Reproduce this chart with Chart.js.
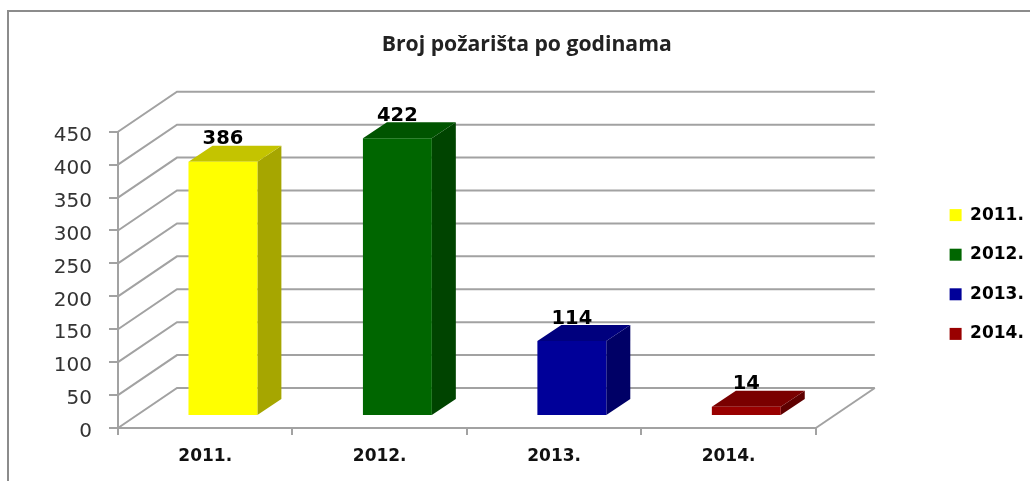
<!DOCTYPE html>
<html>
<head>
<meta charset="utf-8">
<title>Broj požarišta po godinama</title>
<style>
    body { margin: 0; background: #fff; }
    canvas { display: block; }
</style>
<script src="https://cdn.jsdelivr.net/npm/chart.js@4"></script>
</head>
<body>
<canvas id="myChart" width="1030" height="481"></canvas>
<script>
const chartTitle = 'Broj požarišta po godinama';
const years = ['2011.', '2012.', '2013.', '2014.'];
const fireCounts = [386, 422, 114, 14];
const frontColors = ['#ffff00', '#006600', '#000099', '#990000'];
const topColors = ['#c4c400', '#005400', '#00007e', '#7a0000'];
const sideColors = ['#a6a600', '#004400', '#000066', '#5e0000'];

const lineColor = '#a2a2a2';
const frameColor = '#8c8c8c';

// Depth of the fake 3D floor and of the bars, in pixels
const wallDx = 59;
const wallDy = 40;
const barDx = 24;
const barDy = 16;
const barOffsetX = 17.7;
const barOffsetY = 12;

function polygon(ctx, points, color) {
    ctx.beginPath();
    points.forEach((p, i) => (i ? ctx.lineTo(p[0], p[1]) : ctx.moveTo(p[0], p[1])));
    ctx.closePath();
    ctx.fillStyle = color;
    ctx.fill();
}

// Moves title and legend to where the original has them
const nudgeBoxes = {
    id: 'nudgeBoxes',
    afterLayout(chart) {
        chart.titleBlock.left += 65.4;
        chart.titleBlock.right += 65.4;
        chart.legend.left = 927;
        chart.legend.right = 1043;
        chart.legend.top += 34;
        chart.legend.bottom += 34;
    }
};

const frame3d = {
    id: 'frame3d',
    beforeDraw(chart) {
        const ctx = chart.ctx;
        ctx.save();
        ctx.strokeStyle = frameColor;
        ctx.lineWidth = 2;
        ctx.beginPath();
        ctx.moveTo(8, 481);
        ctx.lineTo(8, 11);
        ctx.lineTo(1030, 11);
        ctx.stroke();
        ctx.restore();
    },
    beforeDatasetsDraw(chart) {
        const ctx = chart.ctx;
        const x = chart.scales.x;
        const y = chart.scales.y;

        // Gridlines running over the side wall and along the back wall
        ctx.save();
        ctx.strokeStyle = lineColor;
        ctx.lineWidth = 2;
        y.ticks.forEach(tick => {
            const py = y.getPixelForValue(tick.value);
            ctx.beginPath();
            ctx.moveTo(x.left, py);
            ctx.lineTo(x.left + wallDx, py - wallDy);
            ctx.lineTo(x.right + wallDx, py - wallDy);
            ctx.stroke();
        });
        const floorY = y.getPixelForValue(0);
        ctx.beginPath();
        ctx.moveTo(x.right, floorY);
        ctx.lineTo(x.right + wallDx, floorY - wallDy);
        ctx.stroke();

        // Top and side faces of the bars
        chart.getDatasetMeta(0).data.forEach((bar, i) => {
            const left = bar.x - bar.width / 2 + barOffsetX;
            const right = bar.x + bar.width / 2 + barOffsetX;
            const top = bar.y - barOffsetY;
            const bottom = bar.base - barOffsetY;
            polygon(ctx, [[right, top], [right + barDx, top - barDy], [right + barDx, bottom - barDy], [right, bottom]], sideColors[i]);
            polygon(ctx, [[left, top], [left + barDx, top - barDy], [right + barDx, top - barDy], [right, top]], topColors[i]);
        });
        ctx.restore();

        // Front faces are drawn by Chart.js, shifted into the floor
        ctx.save();
        ctx.translate(barOffsetX, -barOffsetY);
    },
    afterDatasetsDraw(chart) {
        const ctx = chart.ctx;
        ctx.restore();

        // Value labels
        ctx.save();
        ctx.font = 'bold 19.5px "DejaVu Sans"';
        ctx.fillStyle = '#000';
        ctx.textAlign = 'center';
        ctx.textBaseline = 'middle';
        chart.getDatasetMeta(0).data.forEach((bar, i) => {
            ctx.fillText(fireCounts[i], bar.x + barOffsetX, bar.y - barOffsetY - 22.5);
        });
        ctx.restore();
    }
};

new Chart(document.getElementById('myChart').getContext('2d'), {
    type: 'bar',
    data: {
        labels: years,
        datasets: [{
            data: fireCounts,
            backgroundColor: frontColors,
            categoryPercentage: 1,
            barPercentage: 0.395,
            clip: false
        }]
    },
    options: {
        responsive: false,
        animation: false,
        layout: { padding: { left: 0, right: 107.3, top: 0, bottom: 0 } },
        plugins: {
            title: {
                display: true,
                text: chartTitle,
                color: '#222',
                font: { family: '"Open Sans"', size: 21.2, weight: 'bold' },
                padding: { top: 32, bottom: 74.3 }
            },
            legend: {
                position: 'right',
                labels: {
                    boxWidth: 12,
                    boxHeight: 12,
                    padding: 22.6,
                    color: '#111',
                    font: { family: '"DejaVu Sans"', size: 17, weight: 'bold' },
                    generateLabels: () => years.map((year, i) => ({
                        text: year,
                        fillStyle: frontColors[i],
                        strokeStyle: frontColors[i],
                        lineWidth: 0,
                        index: i
                    }))
                }
            },
            tooltip: { enabled: false }
        },
        scales: {
            x: {
                afterFit(scale) { scale.height = 53; },
                grid: { drawOnChartArea: false, color: lineColor, lineWidth: 2, tickLength: 7 },
                border: { color: lineColor, width: 2 },
                ticks: {
                    padding: 11,
                    color: '#111',
                    font: { family: '"DejaVu Sans"', size: 17, weight: 'bold' }
                }
            },
            y: {
                min: 0,
                max: 450,
                afterFit(scale) { scale.width = 118; },
                grid: { drawOnChartArea: false, color: lineColor, lineWidth: 2, tickLength: 9 },
                border: { color: lineColor, width: 2 },
                ticks: {
                    stepSize: 50,
                    padding: 17,
                    labelOffset: 4,
                    color: '#333',
                    font: { family: '"DejaVu Sans"', size: 20 }
                }
            }
        }
    },
    plugins: [nudgeBoxes, frame3d]
});
</script>
</body>
</html>
